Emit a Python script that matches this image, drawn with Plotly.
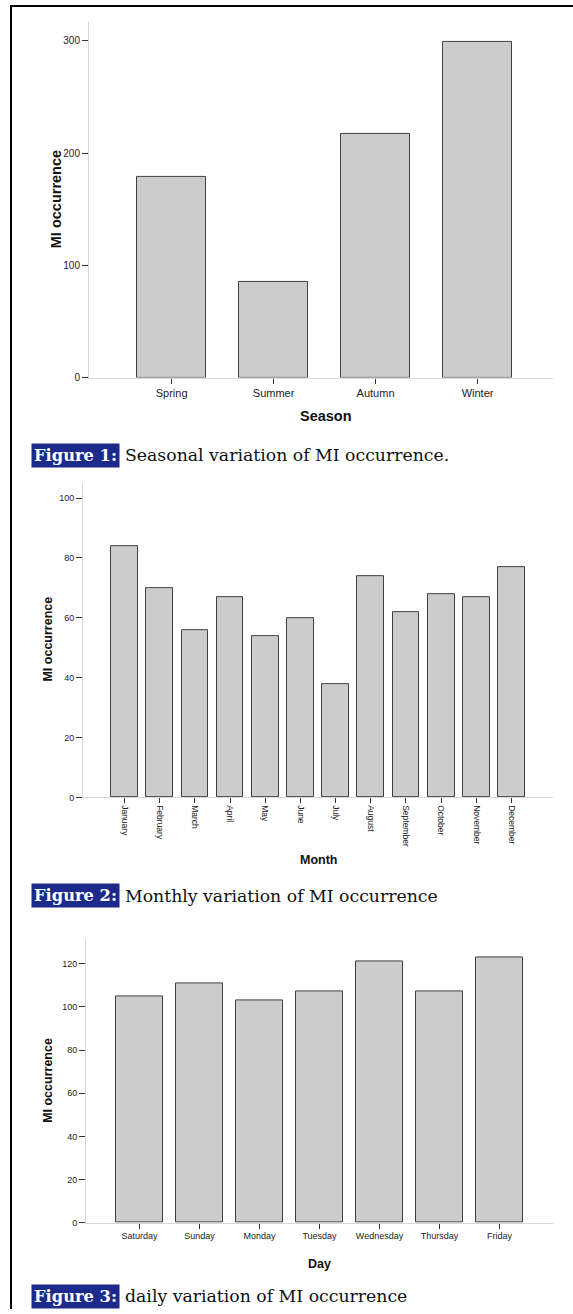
import plotly.graph_objects as go

W, H = 573, 1314

seasons = ["Spring", "Summer", "Autumn", "Winter"]
season_counts = [179, 85, 217, 299]

months = ["January", "February", "March", "April", "May", "June", "July",
          "August", "September", "October", "November", "December"]
month_counts = [84, 70, 56, 67, 54, 60, 38, 74, 62, 68, 67, 77]

days = ["Saturday", "Sunday", "Monday", "Tuesday", "Wednesday", "Thursday", "Friday"]
day_counts = [105, 111, 103, 107, 121, 107, 123]

season_ticks = [0, 100, 200, 300]
month_ticks = [0, 20, 40, 60, 80, 100]
day_ticks = [0, 20, 40, 60, 80, 100, 120]

captions = [
    ("Figure 1:", "Seasonal variation of MI occurrence."),
    ("Figure 2:", "Monthly variation of MI occurrence"),
    ("Figure 3:", "daily variation of MI occurrence"),
]


def px(x):
    return x / W


def py(y):
    return 1 - y / H


BAR_FILL = "#cccccc"
BAR_LINE = "#404040"
AXIS_LINE = "#d8d8d8"
TICK_COL = "#333333"
SANS = "Liberation Sans, Arial, sans-serif"
SERIF = "DejaVu Serif, serif"

fig = go.Figure()

fig.add_trace(go.Bar(x=seasons, y=season_counts, width=0.67, xaxis="x", yaxis="y",
                     marker=dict(color=BAR_FILL, line=dict(color=BAR_LINE, width=1))))
fig.add_trace(go.Bar(x=months, y=month_counts, width=0.76, xaxis="x2", yaxis="y2",
                     marker=dict(color=BAR_FILL, line=dict(color=BAR_LINE, width=1))))
fig.add_trace(go.Bar(x=days, y=day_counts, width=0.78, xaxis="x3", yaxis="y3",
                     marker=dict(color=BAR_FILL, line=dict(color=BAR_LINE, width=1))))


def xax(domain, rng, size, angle=0):
    return dict(domain=domain, range=rng, type="category", showline=True,
                linecolor=AXIS_LINE, linewidth=1, ticks="outside", ticklen=5,
                tickcolor=TICK_COL, tickwidth=1, showgrid=False, zeroline=False,
                tickangle=angle, tickfont=dict(family=SANS, size=size, color="#222"),
                fixedrange=True)


def yax(domain, rng, vals, size, anchor):
    return dict(domain=domain, range=rng, tickvals=vals, showline=True,
                linecolor=AXIS_LINE, linewidth=1, ticks="outside", ticklen=6,
                tickcolor=TICK_COL, tickwidth=1, showgrid=False, zeroline=False,
                tickfont=dict(family=SANS, size=size, color="#222"), anchor=anchor,
                ticklabelstandoff=0, fixedrange=True)


fig.update_layout(
    width=W, height=H, margin=dict(l=0, r=0, t=0, b=0),
    paper_bgcolor="white", plot_bgcolor="white", showlegend=False,
    xaxis=dict(**xax([px(89), px(553)], [-0.81, 3.74], 11), anchor="y"),
    yaxis=yax([py(379), py(22)], [0, 317], season_ticks, 10, "x"),
    xaxis2=dict(**xax([px(83), px(553)], [-1.18, 12.18], 8.5, 90), anchor="y2"),
    yaxis2=yax([py(800.5), py(485)], [0, 105], month_ticks, 9, "x2"),
    xaxis3=dict(**xax([px(86), px(553)], [-0.89, 6.89], 9), anchor="y3"),
    yaxis3=yax([py(1227.3), py(943)], [0, 131.3], day_ticks, 9, "x3"),
    bargap=0,
)

ann = []
# axis titles
ann.append(dict(text="<b>Season</b>", x=px(326), y=py(418), font=dict(size=14.5)))
ann.append(dict(text="<b>MI occurrence</b>", x=px(56), y=py(200), textangle=-90, font=dict(size=14.5)))
ann.append(dict(text="<b>Month</b>", x=px(318), y=py(863), font=dict(size=12.5)))
ann.append(dict(text="<b>MI occurrence</b>", x=px(48), y=py(642), textangle=-90, font=dict(size=12.5)))
ann.append(dict(text="<b>Day</b>", x=px(319), y=py(1269), font=dict(size=12.5)))
ann.append(dict(text="<b>MI occurrence</b>", x=px(48), y=py(1085), textangle=-90, font=dict(size=12.5)))
for a in ann:
    a.update(xref="paper", yref="paper", showarrow=False, xanchor="center", yanchor="middle")
    a["font"].update(family=SANS, color="#111")

cap_y = [457, 899, 1301]
for (lab, txt), cy in zip(captions, cap_y):
    ann.append(dict(text="<b>" + lab + "</b>", x=px(31), y=py(cy), xref="paper", yref="paper",
                    showarrow=False, xanchor="left", yanchor="middle", bgcolor="#1c2a8c",
                    borderpad=2, font=dict(family=SERIF, size=16.3, color="white")))
    ann.append(dict(text=txt, x=px(123), y=py(cy), xref="paper", yref="paper",
                    showarrow=False, xanchor="left", yanchor="middle",
                    font=dict(family=SERIF, size=17.3, color="#111")))

fig.update_layout(annotations=ann)

fig.add_shape(type="line", xref="paper", yref="paper", x0=px(11), x1=px(11), y0=py(5), y1=0,
              line=dict(color="black", width=2))
fig.add_shape(type="line", xref="paper", yref="paper", x0=px(10), x1=1, y0=py(6), y1=py(6),
              line=dict(color="black", width=2))

fig.write_html("out.html", config={"displayModeBar": False},
               post_script="document.body.style.margin='0px';document.body.style.overflow='hidden';")
